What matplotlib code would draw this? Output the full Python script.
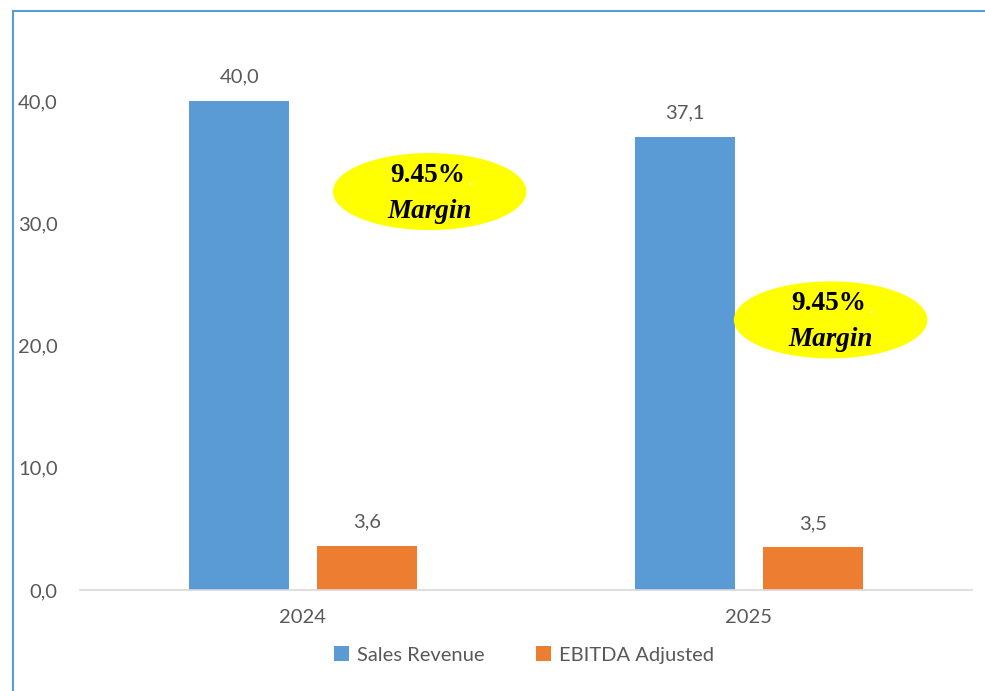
import matplotlib
matplotlib.use("Agg")
import matplotlib.pyplot as plt
from matplotlib.patches import Ellipse
from matplotlib.lines import Line2D
from matplotlib.ticker import FuncFormatter
import numpy as np

years = ["2024", "2025"]
sales_revenue = [40.0, 37.1]
ebitda_adjusted = [3.6, 3.5]
margin_labels = ["9.45%", "9.45%"]

BLUE = "#5b9bd5"
ORANGE = "#ed7d31"
GREY = "#595959"

plt.rcParams["font.family"] = ["Lato", "DejaVu Sans"]

fig = plt.figure(figsize=(9.85, 6.91), dpi=100)
ax = fig.add_axes([80 / 985, 101 / 691, 892 / 985, 550 / 691])

x = np.arange(len(years))
w = 0.224
off = 0.143
b1 = ax.bar(x - off, sales_revenue, w, color=BLUE, label="Sales Revenue")
b2 = ax.bar(x + off, ebitda_adjusted, w, color=ORANGE, label="EBITDA Adjusted")

for bars, vals in ((b1, sales_revenue), (b2, ebitda_adjusted)):
    for r, v in zip(bars, vals):
        ax.annotate(f"{v:.1f}".replace(".", ","), (r.get_x() + r.get_width() / 2, v),
                    xytext=(0, 11), textcoords="offset points", ha="center", va="bottom",
                    fontsize=14.5, color=GREY)

# margin bubbles
bubble_pos = [(0.284, 32.6), (1.183, 22.1)]
for (cx, cy), lab in zip(bubble_pos, margin_labels):
    ax.add_patch(Ellipse((cx, cy), 0.434, 6.3, facecolor="#ffff00", edgecolor="none", zorder=3))
    ax.text(cx - 0.005, cy + 1.3, lab, ha="center", va="center", fontsize=19.5, fontweight="bold",
            family="Liberation Serif", color="black", zorder=4)
    ax.text(cx + 0.09, cy + 0.55, ".", ha="center", va="baseline", fontsize=14,
            color="white", family="Liberation Serif", zorder=5)
    ax.text(cx, cy - 1.6, "Margin", ha="center", va="center", fontsize=19.5, fontweight="bold",
            fontstyle="italic", family="Liberation Serif", color="black", zorder=4)

ax.set_xlim(-0.5, 1.5)
ax.set_ylim(0, 45)
ax.set_xticks(x)
ax.set_xticklabels(years)
ax.set_yticks([0, 10, 20, 30, 40])
ax.yaxis.set_major_formatter(FuncFormatter(lambda v, p: f"{v:.1f}".replace(".", ",")))
ax.tick_params(axis="both", length=0, labelsize=14.5, colors=GREY)
ax.tick_params(axis="y", pad=16)
ax.tick_params(axis="x", pad=14)
for s in ("top", "right", "left"):
    ax.spines[s].set_visible(False)
ax.spines["bottom"].set_color("#d9d9d9")
ax.spines["bottom"].set_linewidth(1.2)

fig.legend(handles=[b1, b2], loc="center", bbox_to_anchor=(524 / 985, 1 - 655 / 691), ncol=2,
           frameon=False, fontsize=14.5, labelcolor=GREY, handlelength=0.7, handleheight=0.7,
           columnspacing=2.6, handletextpad=0.4)

# outer frame (left and top edges)
fig.add_artist(Line2D([13 / 985, 13 / 985], [0, 1 - 11 / 691], color=BLUE, lw=1.5))
fig.add_artist(Line2D([13 / 985, 1], [1 - 11 / 691, 1 - 11 / 691], color=BLUE, lw=1.5))

fig.savefig("out.png", dpi=100, facecolor="white")
